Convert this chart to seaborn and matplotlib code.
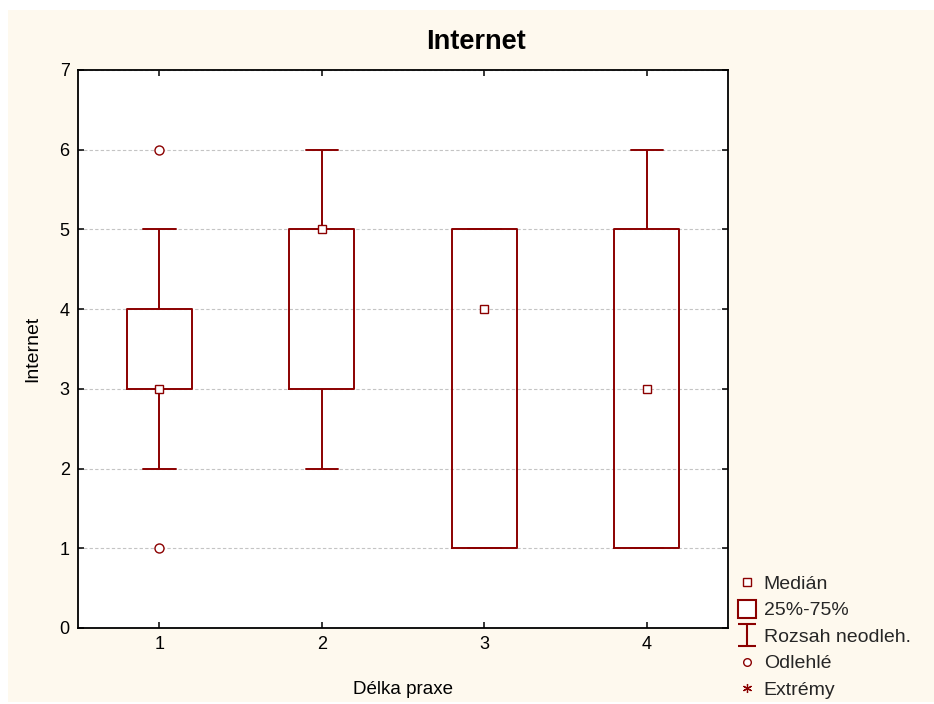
import numpy as np
import pandas as pd
import matplotlib
matplotlib.use("Agg")
import matplotlib.pyplot as plt
from matplotlib.lines import Line2D
from matplotlib.patches import Rectangle
from matplotlib.path import Path
import seaborn as sns

# ---- data (raw values reproducing the box statistics) ----
praxe_1 = [1, 2, 3, 3, 3, 4, 4, 5, 6]
praxe_2 = [2, 3, 3, 5, 5, 5, 5, 6]
praxe_3 = [1, 1, 1, 4, 5, 5, 5]
praxe_4 = [1, 1, 1, 3, 5, 5, 6]
categories = ["1", "2", "3", "4"]
y_ticks = [0, 1, 2, 3, 4, 5, 6, 7]
legend_labels = ["Medián", "25%-75%", "Rozsah neodleh.", "Odlehlé", "Extrémy"]

groups = [praxe_1, praxe_2, praxe_3, praxe_4]
df = pd.DataFrame({
    "Délka praxe": np.concatenate([[c] * len(g) for c, g in zip(categories, groups)]),
    "Internet": np.concatenate(groups).astype(float),
})

DARK = "#8B0000"
CREAM = "#FEF9EE"

sns.set_theme(style="white")
plt.rcParams["font.family"] = ["Liberation Sans", "DejaVu Sans"]

fig = plt.figure(figsize=(9.34, 7.04), dpi=100, facecolor="white")
fig.patches.append(Rectangle((8 / 934, 2 / 704), 1 - 8 / 934, 692 / 704,
                             transform=fig.transFigure, facecolor=CREAM,
                             edgecolor="none", zorder=-10))
ax = fig.add_axes([78 / 934, 76 / 704, 650 / 934, 558 / 704])
ax.set_facecolor("white")

sns.boxplot(data=df, x="Délka praxe", y="Internet", order=categories, ax=ax,
            color=DARK, fill=False, width=0.4, linewidth=1.4, whis=1.5,
            medianprops=dict(linewidth=0, alpha=0),
            flierprops=dict(marker="o", markerfacecolor="white",
                            markeredgecolor=DARK, markersize=6.5,
                            markeredgewidth=1.0),
            zorder=3)

n_before = len(ax.lines)
sns.pointplot(data=df, x="Délka praxe", y="Internet", order=categories, ax=ax,
              estimator="median", errorbar=None, linestyle="none",
              markers="s", color=DARK, markersize=6.3)
for ln in ax.lines[n_before:]:
    ln.set_markerfacecolor("white")
    ln.set_markeredgecolor(DARK)
    ln.set_markeredgewidth(1.0)
    ln.set_zorder(5)
for coll in ax.collections:
    coll.set_facecolor("white")
    coll.set_edgecolor(DARK)
    coll.set_zorder(5)

ax.set_xlim(-0.5, 3.5)
ax.set_ylim(0, 7)
ax.set_yticks(y_ticks)
ax.set_yticklabels([str(t) for t in y_ticks])
ax.yaxis.grid(True, linestyle=(0, (3, 2)), color="#c4c4c4", linewidth=0.8, zorder=0)
ax.xaxis.grid(False)
ax.set_axisbelow(True)
for s in ax.spines.values():
    s.set_visible(True)
    s.set_color("black")
    s.set_linewidth(1.3)
ax.tick_params(axis="both", which="both", direction="in", length=4, width=1.1,
               colors="black", labelsize=13, top=True, right=True,
               bottom=True, left=True, labeltop=False, labelright=False, pad=6)
ax.set_xlabel("Délka praxe", fontsize=13.5, labelpad=20, color="black")
ax.set_ylabel("Internet", fontsize=14, labelpad=13, color="black")
fig.text(0.51, 0.94, "Internet", ha="center", va="center", fontsize=19.5,
         fontweight="bold", color="black")

# legend
ibeam = Path([(-0.4, 0.5), (0.4, 0.5), (0, 0.5), (0, -0.5), (-0.4, -0.5), (0.4, -0.5)],
             [Path.MOVETO, Path.LINETO, Path.MOVETO, Path.LINETO,
              Path.MOVETO, Path.LINETO])
handles = [
    Line2D([], [], linestyle="none", marker="s", markersize=5.5,
           markerfacecolor="white", markeredgecolor=DARK, markeredgewidth=1.0),
    Line2D([], [], linestyle="none", marker="s", markersize=13,
           markerfacecolor="white", markeredgecolor=DARK, markeredgewidth=1.5),
    Line2D([], [], linestyle="none", marker=ibeam, markersize=16,
           markerfacecolor="none", markeredgecolor=DARK, markeredgewidth=1.5),
    Line2D([], [], linestyle="none", marker="o", markersize=5.5,
           markerfacecolor="white", markeredgecolor=DARK, markeredgewidth=1.0),
    Line2D([], [], linestyle="none", marker=(6, 2, 0), markersize=6.5,
           markeredgecolor=DARK, markeredgewidth=0.9),
]
fig.legend(handles, legend_labels, loc="lower left",
           bbox_to_anchor=(735 / 934, 3 / 704), frameon=False,
           fontsize=14, handlelength=1.0, handletextpad=0.38,
           labelspacing=0.46, borderaxespad=0, borderpad=0.1)

fig.savefig("out.png", dpi=100, facecolor="white")
